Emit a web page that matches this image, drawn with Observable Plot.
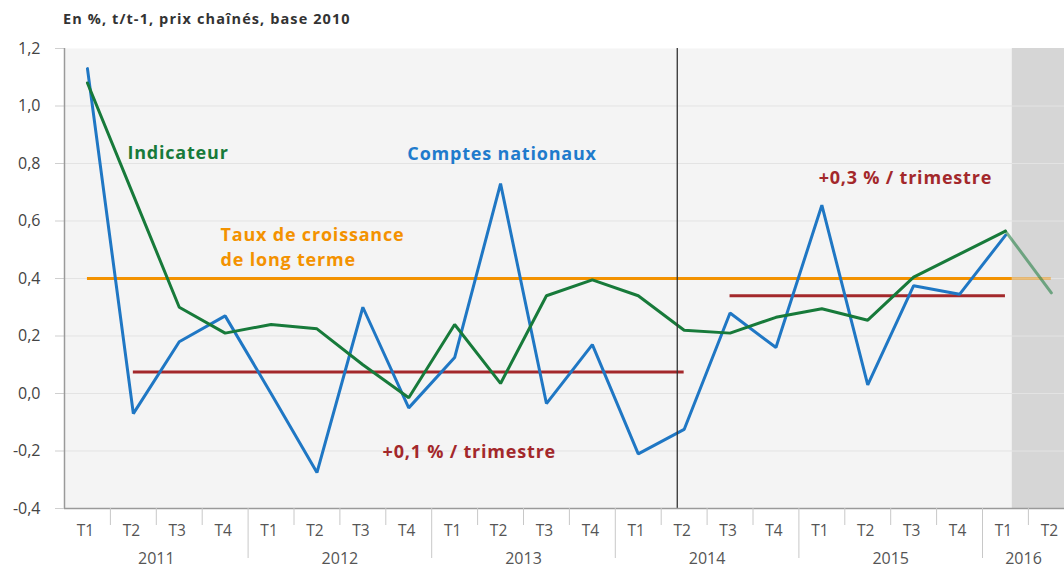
<!DOCTYPE html>
<html>
<head>
<meta charset="utf-8">
<script src="https://cdn.jsdelivr.net/npm/d3@7"></script>
<script src="https://cdn.jsdelivr.net/npm/@observablehq/plot@0.6"></script>
<style>
  html, body { margin: 0; padding: 0; background: #fff; }
  body { width: 1064px; height: 572px; overflow: hidden; font-family: "Open Sans", sans-serif; }
  #title { height: 34px; line-height: 38px; padding-left: 63px; font-weight: 700; font-size: 14.5px; letter-spacing: 1.1px; color: #333; box-sizing: border-box; }
  svg { display: block; }
</style>
</head>
<body>
<div id="title">En %, t/t-1, prix chaînés, base 2010</div>
<div id="chart"></div>
<script>
// ---- Data ----
const quarterLabels = ["T1","T2","T3","T4","T1","T2","T3","T4","T1","T2","T3","T4","T1","T2","T3","T4","T1","T2","T3","T4","T1","T2"];
const yearLabels = ["2011","2012","2013","2014","2015","2016"];
const comptesNationaux = [1.13,-0.07,0.18,0.27,0.00,-0.275,0.30,-0.05,0.125,0.73,-0.035,0.17,-0.21,-0.125,0.28,0.16,0.655,0.03,0.375,0.345,0.55];
const indicateur = [1.08,0.69,0.30,0.21,0.24,0.225,0.10,-0.015,0.24,0.035,0.34,0.395,0.34,0.22,0.21,0.265,0.295,0.255,0.405,0.485,0.565,0.35];
const tauxLongTerme = 0.4;
const moyennes = [
  {value: 0.075, from: 1, to: 13, label: "+0,1 % / trimestre"},
  {value: 0.34, from: 14, to: 20, label: "+0,3 % / trimestre"}
];
const yTicks = [-0.4,-0.2,0,0.2,0.4,0.6,0.8,1.0,1.2];
const separatorIndex = 12.85; // dernière publication des comptes
const shadeStart = 20.15;     // début de la prévision

// annotation labels (index position, value)
const annotations = [
  {x: 0.87, y: 0.836, text: "Indicateur", color: "#177a3a"},
  {x: 6.97, y: 0.833, text: "Comptes nationaux", color: "#1f7bcc"},
  {x: 2.9, y: 0.552, text: "Taux de croissance", color: "#f39200"},
  {x: 2.9, y: 0.465, text: "de long terme", color: "#f39200"},
  {x: 15.93, y: 0.749, text: "+0,3 % / trimestre", color: "#a3282b"},
  {x: 6.43, y: -0.206, text: "+0,1 % / trimestre", color: "#a3282b"}
];

// ---- Derived tables ----
const W = 1064, H = 538, ML = 64, MR = 0, MT = 14, MB = 64;
const xMin = -0.5, xMax = -0.5 + (W - ML - MR) / 45.9;
const frameW = W - ML - MR, frameH = H - MT - MB;
const cnData = comptesNationaux.map((v, i) => ({i, v}));
const indData = indicateur.map((v, i) => ({i, v}));
const indMain = indData.filter(d => d.i <= 20);
const indFore = indData.filter(d => d.i >= 20);
const boundaries = d3.range(1, quarterLabels.length).map(i => i - 0.5);
const quarterBounds = boundaries.filter(b => (b + 0.5) % 4 !== 0);
const yearBounds = boundaries.filter(b => (b + 0.5) % 4 === 0);
const years = yearLabels.map((label, k) => {
  const s = 4 * k - 0.5, e = Math.min(4 * k + 3.5, xMax);
  return {label, x: (s + e) / 2};
});
const fmt = d => d.toFixed(1).replace(".", ",");

const chart = Plot.plot({
  width: W, height: H,
  marginLeft: ML, marginRight: MR, marginTop: MT, marginBottom: MB,
  style: {fontFamily: "'Open Sans', sans-serif", background: "transparent", overflow: "visible"},
  x: {domain: [xMin, xMax], axis: null},
  y: {domain: [-0.4, 1.2], axis: null},
  marks: [
    Plot.frame({fill: "#f4f4f4", stroke: "none"}),
    Plot.rect([shadeStart], {x1: d => d, x2: xMax, y1: -0.4, y2: 1.2, fill: "#d6d6d6"}),
    Plot.ruleY(yTicks.filter(d => d > -0.4 && d < 1.2), {stroke: "#e3e3e3", strokeWidth: 1}),
    // y tick marks
    Plot.ruleY(yTicks, {stroke: "#cfcfcf", strokeWidth: 1, insetLeft: -9, insetRight: frameW}),
    Plot.text(yTicks, {y: d => d, text: fmt, frameAnchor: "left", dx: -24, textAnchor: "end", fontSize: 16, fill: "#444"}),
    // long-term rate
    Plot.ruleY([tauxLongTerme], {x1: 0, x2: shadeStart, stroke: "#f39200", strokeWidth: 3}),
    Plot.ruleY([tauxLongTerme], {x1: shadeStart, x2: 21, stroke: "#f39200", strokeWidth: 3, strokeOpacity: 0.45}),
    // averages
    Plot.ruleY(moyennes, {y: "value", x1: "from", x2: "to", stroke: "#a3282b", strokeWidth: 3}),
    // series
    Plot.line(cnData, {x: "i", y: "v", stroke: "#1f77c4", strokeWidth: 3, strokeLinejoin: "miter"}),
    Plot.line(indMain, {x: "i", y: "v", stroke: "#177a3a", strokeWidth: 3, strokeLinejoin: "miter"}),
    Plot.line(indFore, {x: "i", y: "v", stroke: "#177a3a", strokeWidth: 3, strokeOpacity: 0.55}),
    // separator
    Plot.ruleX([separatorIndex], {stroke: "#333", strokeWidth: 1.3}),
    // axis lines
    Plot.ruleX([xMin], {stroke: "#9a9a9a", strokeWidth: 1.5}),
    Plot.ruleY([-0.4], {stroke: "#9a9a9a", strokeWidth: 1.5}),
    // x ticks
    Plot.ruleX(quarterBounds, {stroke: "#c8c8c8", strokeWidth: 1, insetTop: frameH, insetBottom: -17}),
    Plot.ruleX(yearBounds, {stroke: "#c8c8c8", strokeWidth: 1, insetTop: frameH, insetBottom: -50}),
    Plot.text(quarterLabels.map((t, i) => ({t, i})), {x: "i", text: "t", frameAnchor: "bottom", dy: 27, dx: -2, fontSize: 15.5, fill: "#555"}),
    Plot.text(years, {x: "x", text: "label", frameAnchor: "bottom", dy: 55, fontSize: 16, fill: "#555"}),
    // annotations
    Plot.text(annotations, {x: "x", y: "y", text: "text", fill: "color", textAnchor: "start", fontSize: 18, fontWeight: 700})
  ]
});
const textGroups = chart.querySelectorAll('g[aria-label="text"]');
textGroups[textGroups.length - 1].setAttribute("letter-spacing", "0.8");
document.getElementById("chart").appendChild(chart);
</script>
</body>
</html>
